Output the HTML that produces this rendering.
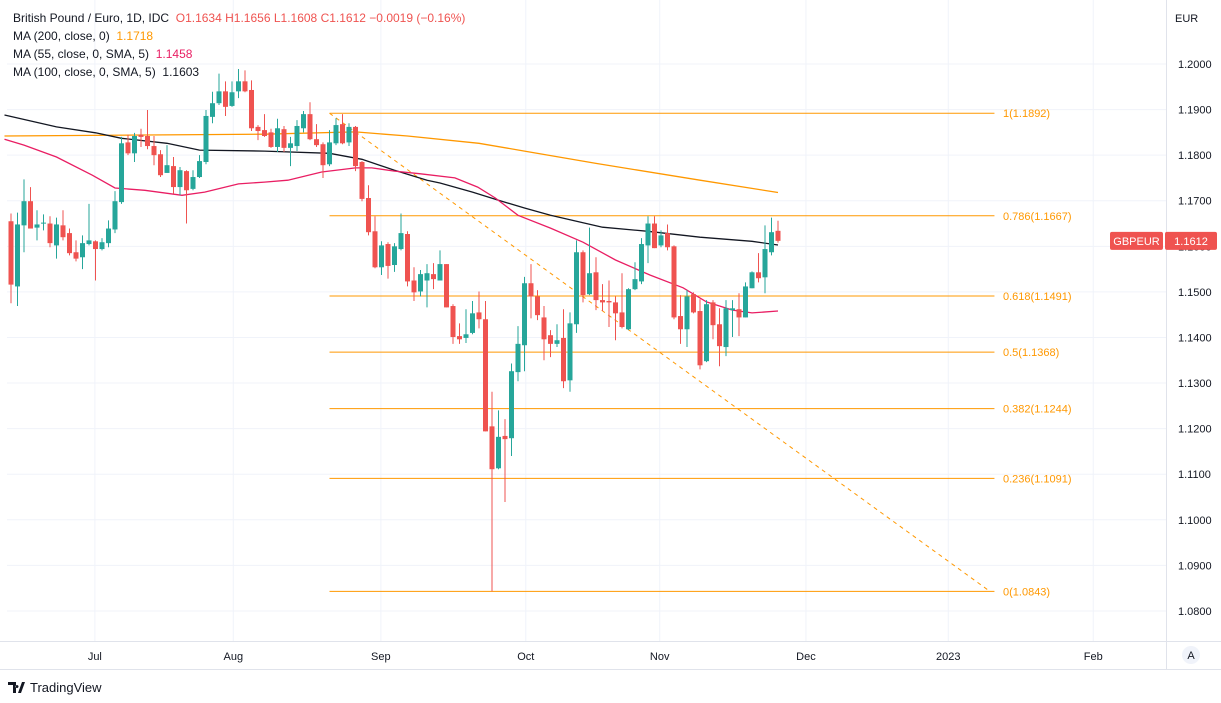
<!DOCTYPE html>
<html><head><meta charset="utf-8">
<style>
html,body{margin:0;padding:0;background:#fff;}
body{width:1221px;height:703px;overflow:hidden;position:relative;font-family:"Liberation Sans",sans-serif;}
svg{position:absolute;left:0;top:0;}
.leg{position:absolute;left:13px;font-size:12px;color:#131722;white-space:nowrap;}
</style></head><body>
<svg id="chart" width="1221" height="703"></svg>
<div class="leg" style="top:11px">British Pound / Euro, 1D, IDC&nbsp;&nbsp;<span style="color:#ef5350">O</span><span style="color:#ef5350">1.1634</span> <span style="color:#ef5350">H1.1656</span> <span style="color:#ef5350">L1.1608</span> <span style="color:#ef5350">C1.1612</span> <span style="color:#ef5350">−0.0019 (−0.16%)</span></div>
<div class="leg" style="top:29px">MA (200, close, 0)&nbsp;&nbsp;<span style="color:#ff9800">1.1718</span></div>
<div class="leg" style="top:47px">MA (55, close, 0, SMA, 5)&nbsp;&nbsp;<span style="color:#e91e63">1.1458</span></div>
<div class="leg" style="top:65px">MA (100, close, 0, SMA, 5)&nbsp;&nbsp;<span style="color:#131722">1.1603</span></div>
<script>
const opens=[1.1655,1.1512,1.1646,1.1699,1.1641,1.1650,1.1650,1.1602,1.1646,1.1629,1.1587,1.1576,1.1605,1.1611,1.1594,1.1607,1.1637,1.1697,1.1828,1.1804,1.1845,1.1842,1.1820,1.1802,1.1761,1.1776,1.1730,1.1765,1.1726,1.1752,1.1785,1.1884,1.1914,1.1940,1.1908,1.1940,1.1962,1.1943,1.1862,1.1855,1.1850,1.1818,1.1857,1.1816,1.1820,1.1859,1.1890,1.1835,1.1824,1.1780,1.1826,1.1868,1.1828,1.1862,1.1785,1.1706,1.1633,1.1554,1.1605,1.1559,1.1594,1.1627,1.1525,1.1501,1.1525,1.1539,1.1525,1.1561,1.1469,1.1403,1.1399,1.1410,1.1455,1.1440,1.1205,1.1113,1.1184,1.1179,1.1324,1.1383,1.1519,1.1490,1.1444,1.1405,1.1386,1.1399,1.1306,1.1429,1.1587,1.1495,1.1543,1.1482,1.1480,1.1477,1.1455,1.1418,1.1506,1.1523,1.1602,1.1650,1.1602,1.1629,1.1600,1.1447,1.1418,1.1495,1.1458,1.1348,1.1477,1.1429,1.1379,1.1460,1.1462,1.1444,1.1508,1.1543,1.1532,1.1587,1.1634];
const highs=[1.1672,1.1674,1.1747,1.1730,1.1679,1.1670,1.1666,1.1663,1.1679,1.1639,1.1613,1.1624,1.1693,1.1613,1.1618,1.1657,1.1721,1.1840,1.1845,1.1849,1.1858,1.1899,1.1842,1.1811,1.1822,1.1796,1.1774,1.1767,1.1767,1.1800,1.1899,1.1939,1.1979,1.1962,1.1962,1.1989,1.1986,1.1964,1.1866,1.1890,1.1858,1.1880,1.1864,1.1840,1.1877,1.1897,1.1916,1.1868,1.1828,1.1855,1.1881,1.1890,1.1870,1.1864,1.1787,1.1734,1.1666,1.1611,1.1609,1.1607,1.1672,1.1633,1.1554,1.1548,1.1561,1.1563,1.1591,1.1561,1.1473,1.1431,1.1462,1.1480,1.1501,1.1480,1.1281,1.1240,1.1221,1.1343,1.1425,1.1533,1.1561,1.1504,1.1469,1.1416,1.1429,1.1462,1.1455,1.1613,1.1591,1.1641,1.1576,1.1517,1.1525,1.1490,1.1541,1.1508,1.1565,1.1618,1.1666,1.1666,1.1635,1.1648,1.1602,1.1493,1.1504,1.1499,1.1484,1.1482,1.1482,1.1464,1.1482,1.1482,1.1497,1.1521,1.1545,1.1585,1.1646,1.1663,1.1656];
const lows=[1.1475,1.1469,1.1587,1.1639,1.1613,1.1635,1.1598,1.1573,1.1613,1.1580,1.1567,1.1550,1.1602,1.1525,1.1591,1.1598,1.1629,1.1693,1.1800,1.1785,1.1818,1.1813,1.1778,1.1752,1.1761,1.1715,1.1712,1.1650,1.1723,1.1750,1.1780,1.1870,1.1910,1.1886,1.1906,1.1925,1.1938,1.1853,1.1833,1.1840,1.1816,1.1807,1.1807,1.1776,1.1809,1.1850,1.1833,1.1818,1.1750,1.1776,1.1822,1.1824,1.1820,1.1765,1.1699,1.1624,1.1552,1.1537,1.1529,1.1544,1.1591,1.1512,1.1480,1.1490,1.1466,1.1506,1.1525,1.1466,1.1386,1.1386,1.1388,1.1407,1.1420,1.1194,1.0843,1.1111,1.1039,1.1140,1.1304,1.1326,1.1442,1.1438,1.1350,1.1357,1.1379,1.1289,1.1281,1.1410,1.1477,1.1493,1.1460,1.1458,1.1423,1.1394,1.1420,1.1416,1.1504,1.1517,1.1563,1.1596,1.1598,1.1591,1.1440,1.1386,1.1379,1.1453,1.1330,1.1346,1.1396,1.1337,1.1359,1.1401,1.1403,1.1444,1.1508,1.1521,1.1497,1.1580,1.1608];
const closes=[1.1516,1.1648,1.1699,1.1639,1.1648,1.1652,1.1607,1.1648,1.1620,1.1585,1.1573,1.1607,1.1613,1.1594,1.1609,1.1639,1.1699,1.1826,1.1804,1.1842,1.1840,1.1820,1.1800,1.1756,1.1778,1.1730,1.1767,1.1723,1.1752,1.1787,1.1886,1.1914,1.1940,1.1906,1.1938,1.1962,1.1940,1.1859,1.1853,1.1842,1.1818,1.1859,1.1816,1.1826,1.1864,1.1890,1.1835,1.1822,1.1778,1.1828,1.1866,1.1826,1.1862,1.1776,1.1704,1.1631,1.1554,1.1602,1.1557,1.1600,1.1629,1.1523,1.1499,1.1539,1.1541,1.1528,1.1561,1.1466,1.1401,1.1396,1.1407,1.1453,1.1440,1.1194,1.1111,1.1182,1.1177,1.1326,1.1386,1.1519,1.1490,1.1449,1.1396,1.1386,1.1394,1.1304,1.1431,1.1587,1.1493,1.1541,1.1482,1.1477,1.1477,1.1453,1.1423,1.1506,1.1528,1.1605,1.1650,1.1596,1.1624,1.1598,1.1444,1.1418,1.1490,1.1455,1.1339,1.1473,1.1427,1.1381,1.1464,1.1464,1.1444,1.1512,1.1543,1.1530,1.1594,1.1631,1.1612];
const ma100Idx=[-1,7,13,17,24,29,39,49,54,59,64,66,71,75,79,83,91,98,106,114,118];
const ma100Val=[1.1888,1.1862,1.1849,1.1837,1.1826,1.1811,1.1809,1.1804,1.1791,1.1767,1.1745,1.1739,1.1719,1.1701,1.1684,1.1668,1.1642,1.1633,1.1620,1.1611,1.1603];
const ma55Idx=[-1,2,7,12.5,16,20.6,26.3,29.8,35,39,42.6,47.8,53,55.5,59,63,68.3,71.8,74.5,78,83,88,93,98.3,103.4,107,111,114,118];
const ma55Val=[1.1835,1.1822,1.1796,1.1756,1.1728,1.1723,1.1712,1.1719,1.1737,1.1741,1.1745,1.1763,1.1772,1.1772,1.1765,1.1759,1.1750,1.1730,1.1706,1.1668,1.1640,1.1609,1.1570,1.1537,1.1509,1.1478,1.1460,1.1454,1.1458];
const ma200Idx=[-1,39,53,61,72,79,90,106,118];
const ma200Val=[1.1842,1.1846,1.1851,1.1842,1.1826,1.1809,1.1782,1.1745,1.1718];
const fibLevels=[1,0.786,0.618,0.5,0.382,0.236,0];
const fibPrices=[1.1892,1.1667,1.1491,1.1368,1.1244,1.1091,1.0843];
const fibStartIdx=49, fibEndIdx=151.3, trendEndIdx=150.6;
const priceTicks=[1.2,1.19,1.18,1.17,1.16,1.15,1.14,1.13,1.12,1.11,1.10,1.09,1.08];
const timeLabels=["Jul","Aug","Sep","Oct","Nov","Dec","2023","Feb"];
const timeIdx=[12.9,34.2,56.9,79.2,99.8,122.3,144.2,166.5];
const lastPrice=1.1612;

const NS="http://www.w3.org/2000/svg";
const svg=document.getElementById('chart');
const PL=7,PR=1166,PT=7,PB=641;
const yS=p=>64+(1.2-p)*4558;
const xS=i=>11+i*6.5;
function mk(tag,attrs,parent){const e=document.createElementNS(NS,tag);for(const k in attrs)e.setAttribute(k,attrs[k]);(parent||svg).appendChild(e);return e;}
const grid=mk('g',{});


priceTicks.forEach(p=>{mk('line',{x1:PL,x2:PR,y1:yS(p),y2:yS(p),stroke:'#f0f3fa','stroke-width':1},grid);});
timeIdx.forEach(i=>{mk('line',{x1:xS(i),x2:xS(i),y1:0,y2:PB,stroke:'#f0f3fa','stroke-width':1},grid);});
mk('line',{x1:PR+0.5,x2:PR+0.5,y1:0,y2:670,stroke:'#e0e3eb'});
mk('line',{x1:0,x2:1221,y1:PB+0.5,y2:PB+0.5,stroke:'#e0e3eb'});
mk('line',{x1:0,x2:1221,y1:669.5,y2:669.5,stroke:'#e0e3eb'});
const ya=mk('g',{});


priceTicks.forEach(p=>{const t=mk('text',{x:1178,y:yS(p)+4,'font-size':11,fill:'#131722','font-family':'Liberation Sans, sans-serif'},ya);t.textContent=p.toFixed(4);

});
const eur=mk('text',{x:1175,y:22,'font-size':11,fill:'#131722'},ya);eur.textContent='EUR';


const xa=mk('g',{});


timeLabels.forEach((l,k)=>{const t=mk('text',{x:xS(timeIdx[k]),y:660,'font-size':11,fill:'#131722','text-anchor':'middle'},xa);t.textContent=l;

});
const fib=mk('g',{});


fibPrices.forEach((p,k)=>{mk('line',{x1:xS(fibStartIdx),x2:xS(fibEndIdx),y1:yS(p),y2:yS(p),stroke:'#ff9800','stroke-width':1},fib);
const t=mk('text',{x:1003,y:yS(p)+4,'font-size':11,fill:'#ff9800'},fib);t.textContent=fibLevels[k]+'('+p.toFixed(4)+')';

});
const tl=mk('line',{x1:xS(fibStartIdx),y1:yS(fibPrices[0]),x2:xS(trendEndIdx),y2:yS(fibPrices[6]),stroke:'#ff9800','stroke-width':1,'stroke-dasharray':'4,4'});


function maLine(idx,val,color,name){const d=idx.map((i,k)=>(k?'L':'M')+xS(i).toFixed(1)+','+yS(val[k]).toFixed(1)).join(' ');
const p=mk('path',{d:d,fill:'none',stroke:color,'stroke-width':1.3});

}
maLine(ma200Idx,ma200Val,'#ff9800','ma200-line');
maLine(ma100Idx,ma100Val,'#131722','ma100-line');
maLine(ma55Idx,ma55Val,'#e91e63','ma55-line');
const cg=mk('g',{});


closes.forEach((c,i)=>{const o=opens[i],up=c>=o,col=up?'#26a69a':'#ef5350',x=xS(i);
const g=mk('g',{},cg);


mk('line',{x1:x,x2:x,y1:yS(highs[i]),y2:yS(lows[i]),stroke:col,'stroke-width':1},g);
const top=yS(Math.max(o,c)),h=Math.max(1,Math.abs(yS(o)-yS(c)));
mk('rect',{x:x-2.5,y:top,width:5,height:h,fill:col},g);});
const ly=yS(lastPrice);
const tag=mk('g',{});


mk('rect',{x:1110,y:ly-9,width:53,height:18,rx:2,fill:'#ef5350'},tag);
const t1=mk('text',{x:1136.5,y:ly+4,'font-size':11,fill:'#fff','text-anchor':'middle'},tag);t1.textContent='GBPEUR';
mk('rect',{x:1165,y:ly-9,width:52,height:18,rx:2,fill:'#ef5350'},tag);
const t2=mk('text',{x:1191,y:ly+4,'font-size':11,fill:'#fff','text-anchor':'middle'},tag);t2.textContent=lastPrice.toFixed(4);
const ab=mk('g',{});


mk('circle',{cx:1191,cy:655,r:9,fill:'#f0f3fa'},ab);
const at=mk('text',{x:1191,y:659,'font-size':11,fill:'#131722','text-anchor':'middle'},ab);at.textContent='A';
const lg=mk('g',{});


mk('path',{d:'M8 682h8v11h-3v-8h-5z M18 693l4-11h3l-4 11z M17 685a1.5 1.5 0 1 0 0.01 0',fill:'#131722'},lg);
const lt=mk('text',{x:30,y:692,'font-size':13,fill:'#131722'},lg);lt.textContent='TradingView';
</script>
</body></html>
